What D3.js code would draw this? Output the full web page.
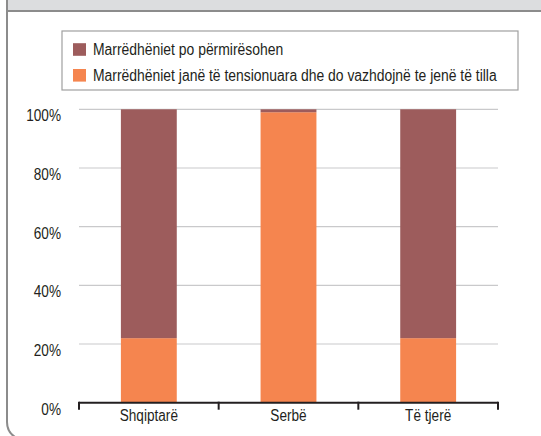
<!DOCTYPE html>
<html><head><meta charset="utf-8">
<script src="https://cdn.jsdelivr.net/npm/d3@7"></script>
<style>
html,body{margin:0;padding:0;background:#fff;}
svg{display:block;}
text{font-family:"Liberation Sans Narrow","Liberation Sans",Arial,sans-serif;fill:#231f20;}
</style></head>
<body>
<svg id="c" width="541" height="436"></svg>
<script>
const categories = ["Shqiptarë", "Serbë", "Të tjerë"];
const seriesNames = ["Marrëdhëniet po përmirësohen", "Marrëdhëniet janë të tensionuara dhe do vazhdojnë te jenë të tilla"];
const improving = [78, 1, 78];
const tense = [22, 99, 22];
const yTicks = [0, 20, 40, 60, 80, 100];
const colors = ["#9d5c5c", "#f5854f"];

const svg = d3.select("#c");
function narrow(sel, k) {
  sel.each(function() {
    const w = this.getComputedTextLength();
    d3.select(this).attr("textLength", w * k).attr("lengthAdjust", "spacingAndGlyphs");
  });
}

// frame: top band and left border
svg.append("rect").attr("x", 8).attr("y", 0).attr("width", 533).attr("height", 10.5).attr("fill", "#dcdddf");
svg.append("line").attr("x1", 8).attr("x2", 541).attr("y1", 11).attr("y2", 11).attr("stroke", "#8c8c8c").attr("stroke-width", 2);
svg.append("path").attr("d", "M7,0 L7,422 Q7,432 15,437").attr("fill", "none").attr("stroke", "#8c8c8c").attr("stroke-width", 2);

const x0 = 79, x1 = 498, yTop = 109.3, yBot = 402.7;
const x = d3.scaleBand().domain(categories).range([x0, x1]).padding(0);
const y = d3.scaleLinear().domain([0, 100]).range([yBot, yTop]);

// gridlines
svg.append("g").selectAll("line").data(yTicks.filter(d => d > 0)).join("line")
  .attr("x1", x0).attr("x2", x1)
  .attr("y1", d => y(d)).attr("y2", d => y(d))
  .attr("stroke", "#c9c9cb").attr("stroke-width", 1.2);

// y labels
const yAxis = d3.axisLeft(y).tickValues(yTicks).tickFormat(d => d + "%").tickSize(0).tickPadding(0);
const gy = svg.append("g").attr("transform", "translate(61,6.5)").call(yAxis);
gy.select(".domain").remove();
gy.selectAll("text").attr("font-size", 16).attr("font-family", null).attr("fill", "#231f20").call(narrow, 0.85);

// stacked bars
const bw = x.bandwidth() * 0.4;
const data = categories.map((c, i) => ({c, vals: [tense[i], improving[i]]}));
data.forEach(d => {
  let base = 0;
  [{v: d.vals[0], col: colors[1]}, {v: d.vals[1], col: colors[0]}].forEach(s => {
    svg.append("rect")
      .attr("x", x(d.c) + (x.bandwidth() - bw) / 2)
      .attr("y", y(base + s.v))
      .attr("width", bw)
      .attr("height", y(base) - y(base + s.v))
      .attr("fill", s.col);
    base += s.v;
  });
});

// x axis
const xAxis = d3.axisBottom(x).tickSize(0).tickPadding(7);
const gx = svg.append("g").attr("transform", `translate(0,${yBot})`).call(xAxis);
gx.select(".domain").remove();
gx.selectAll("text").attr("font-size", 16).attr("font-family", null).attr("fill", "#231f20").attr("dy", "0.71em").call(narrow, 0.85);
svg.append("line").attr("x1", x0).attr("x2", x1).attr("y1", yBot).attr("y2", yBot).attr("stroke", "#231f20").attr("stroke-width", 2);
const tickXs = categories.map(c => x(c)).concat([x1]);
svg.append("g").selectAll("line").data(tickXs).join("line")
  .attr("x1", d => d).attr("x2", d => d)
  .attr("y1", yBot - 1).attr("y2", yBot + 7)
  .attr("stroke", "#231f20").attr("stroke-width", 2);

// legend
const lg = svg.append("g");
lg.append("rect").attr("x", 62).attr("y", 31).attr("width", 456).attr("height", 59)
  .attr("fill", "#fff").attr("stroke", "#a0a0a0").attr("stroke-width", 1.2);
const legendItems = [{name: seriesNames[0], col: colors[0]}, {name: seriesNames[1], col: colors[1]}];
legendItems.forEach((it, i) => {
  const cy = 49.5 + i * 25.8;
  lg.append("rect").attr("x", 73).attr("y", cy - 6.3).attr("width", 13).attr("height", 12.6).attr("fill", it.col);
  lg.append("g").attr("transform", `translate(93,${cy + 5.5}) scale(0.87,1)`)
    .append("text").attr("x", 0).attr("y", 0).attr("font-size", 16).text(it.name);
});
</script>
</body></html>
